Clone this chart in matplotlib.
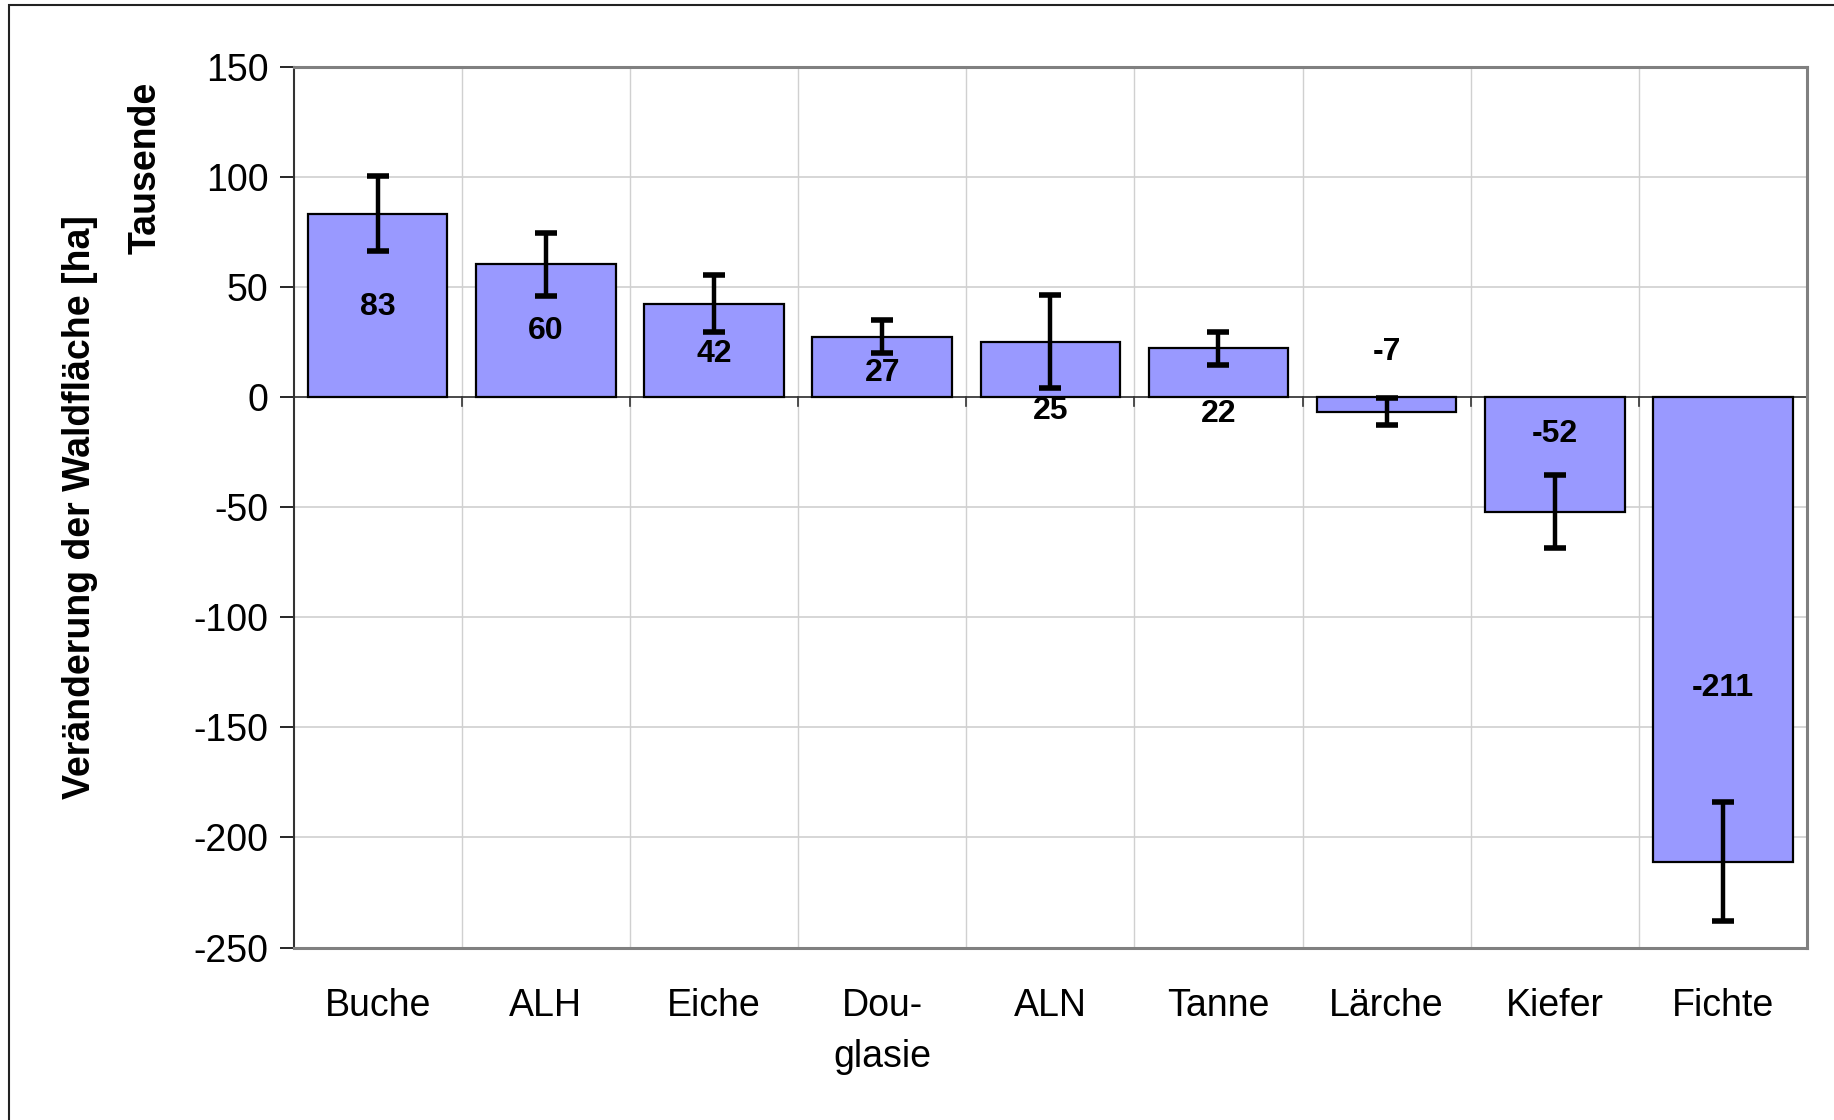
import numpy as np
import matplotlib.pyplot as plt
from matplotlib.patches import Rectangle

plt.rcParams['font.family'] = ['Liberation Sans', 'DejaVu Sans']
plt.rcParams['axes.unicode_minus'] = False

arten = ['Buche', 'ALH', 'Eiche', 'Dou-\nglasie', 'ALN', 'Tanne', 'Lärche', 'Kiefer', 'Fichte']
veraenderung = [83.2, 60.4, 42.4, 27.4, 25.2, 22.1, -6.6, -52.0, -211.0]
fehler = [17, 14.3, 13, 7.4, 21, 7.5, 6.2, 16.5, 27]
# where the value labels sit (data units), placed by hand like the original
label_y = [41, 30, 19.5, 11, -6.5, -7.5, 20.5, -17, -132]

fig = plt.figure(figsize=(18.34, 11.2), dpi=100)
ax = fig.add_axes([0.1601, 0.154, 0.8252, 0.7864])

x = np.arange(len(arten))
ax.bar(x, veraenderung, width=0.83, color='#9999FF', edgecolor='black', linewidth=1.6, zorder=3)
ax.errorbar(x, veraenderung, yerr=fehler, fmt='none', ecolor='black', elinewidth=3.2,
            capsize=8, capthick=4, zorder=4)

for xi, v, ly in zip(x, veraenderung, label_y):
    ax.text(xi, ly, '%.0f' % v, ha='center', va='center', fontsize=23,
            fontweight='bold', zorder=5)

ax.set_xlim(-0.5, len(arten) - 0.5)
ax.set_ylim(-250, 150)
ax.set_yticks(np.arange(-250, 151, 50))
ax.set_xticks(x)
ax.set_xticklabels(arten, fontsize=27, linespacing=1.55)
ax.tick_params(axis='x', length=0, pad=29)
ax.tick_params(axis='y', labelsize=27, length=10, width=1.2, direction='out', pad=8)

# grid: horizontal at ticks, vertical at category boundaries
for yv in np.arange(-200, 151, 50):
    ax.axhline(yv, color='#D0D0D0', linewidth=1.2, zorder=1)
for xb in np.arange(0.5, len(arten) - 0.5, 1):
    ax.axvline(xb, color='#D0D0D0', linewidth=1.0, zorder=1)
    ax.plot([xb, xb], [0, -4], color='#333333', linewidth=1.2, zorder=2)
ax.axhline(0, color='#333333', linewidth=1.2, zorder=2)

for side in ['top', 'right', 'bottom']:
    ax.spines[side].set_color('#808080')
    ax.spines[side].set_linewidth(2.2)
ax.spines['left'].set_color('#333333')
ax.spines['left'].set_linewidth(1.5)

ax.set_ylabel('Veränderung der Waldfläche [ha]', fontsize=27, fontweight='bold')
ax.yaxis.set_label_coords(-0.129, 0.5)
fig.text(146 / 1834, 1 - 168 / 1120, 'Tausende', rotation=90, ha='center', va='center',
         fontsize=27, fontweight='bold')

fig.patches.append(Rectangle((9 / 1834, -0.1), 1.2, 1.1 - 5 / 1120, transform=fig.transFigure,
                             fill=False, edgecolor='#222222', linewidth=1.5))

fig.savefig('out.png', dpi=100)
